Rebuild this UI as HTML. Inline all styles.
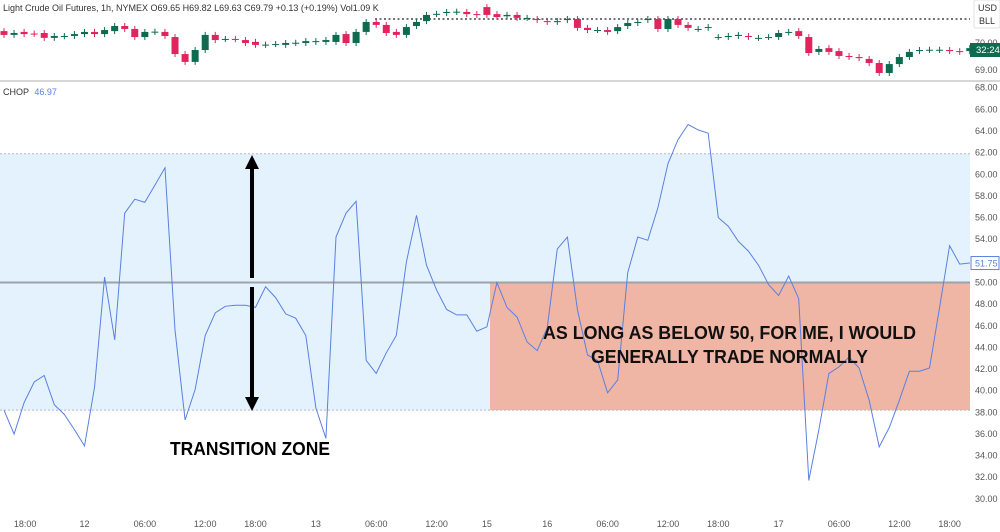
<!DOCTYPE html>
<html><head><meta charset="utf-8">
<style>
html,body{margin:0;padding:0;background:#fff;}
svg{display:block;font-family:"Liberation Sans","DejaVu Sans",sans-serif;}
</style></head>
<body>
<svg id="chart" width="1000" height="532" viewBox="0 0 1000 532" xmlns="http://www.w3.org/2000/svg">
<rect x="0" y="0" width="1000" height="532" fill="#fff"/>
<g id="bands"></g>
<g id="candles"></g>
<g id="chopline"></g>
<g id="axes"></g>
<g id="annot"></g>
</svg>
<script>
const opens=[70.44,70.30,70.41,70.35,70.37,70.19,70.25,70.26,70.33,70.41,70.33,70.44,70.63,70.52,70.22,70.41,70.41,70.22,69.59,69.30,69.74,70.30,70.15,70.15,70.11,70.04,69.93,69.96,69.93,70.00,70.00,70.04,70.04,70.04,70.33,70.00,70.41,70.78,70.67,70.41,70.30,70.63,70.81,71.07,71.11,71.15,71.15,71.07,71.33,71.07,70.99,71.04,70.93,70.89,70.81,70.78,70.85,70.89,70.56,70.48,70.48,70.44,70.63,70.74,70.85,70.89,70.52,70.89,70.67,70.52,70.56,70.22,70.22,70.26,70.26,70.19,70.22,70.22,70.39,70.44,70.22,69.67,69.81,69.70,69.52,69.48,69.41,69.26,68.89,69.22,69.48,69.70,69.74,69.74,69.74,69.70,69.70];
const closes=[70.30,70.37,70.33,70.34,70.19,70.26,70.26,70.33,70.41,70.33,70.48,70.63,70.52,70.22,70.41,70.42,70.26,69.59,69.30,69.74,70.30,70.11,70.15,70.14,70.00,69.93,69.94,69.96,70.00,70.01,70.07,70.07,70.11,70.30,70.00,70.41,70.78,70.67,70.37,70.30,70.59,70.78,71.04,71.08,71.15,71.16,71.07,71.04,71.04,70.96,71.04,70.93,70.93,70.85,70.78,70.81,70.89,70.56,70.48,70.48,70.41,70.59,70.74,70.78,70.89,70.52,70.89,70.67,70.56,70.52,70.59,70.22,70.26,70.30,70.22,70.19,70.22,70.37,70.41,70.26,69.63,69.78,69.67,69.52,69.48,69.44,69.26,68.89,69.22,69.48,69.67,69.74,69.75,69.75,69.70,69.67,69.81];
const chopValues=[38.2,36.0,38.9,40.8,41.4,38.7,37.8,36.4,34.9,40.3,50.5,44.7,56.4,57.7,57.4,59.0,60.6,45.6,37.3,40.1,45.1,47.2,47.8,47.9,47.9,47.7,49.6,48.6,47.1,46.7,45.1,38.4,35.6,54.2,56.4,57.5,42.8,41.6,43.5,45.1,51.9,56.2,51.6,49.3,47.5,47.0,47.0,45.5,45.9,50.0,47.7,46.8,44.5,43.7,45.8,53.1,54.2,47.5,43.3,42.8,39.8,41.0,50.9,54.2,53.9,56.9,61.0,63.2,64.6,64.1,63.8,56.0,55.2,53.8,52.9,51.6,49.8,48.8,50.6,48.5,31.7,36.4,41.6,42.2,43.1,42.1,39.1,34.8,36.6,39.1,41.8,41.8,42.1,47.7,53.4,51.7,51.8];
const chopTicks=[68,66,64,62,60,58,56,54,52,50,48,46,44,42,40,38,36,34,32,30];
const priceTicks=[70,69];
const timeLabels=["18:00","12","06:00","12:00","18:00","13","06:00","12:00","15","16","06:00","12:00","18:00","17","06:00","12:00","18:00"];
const timeIndex=[2.1,8,14,20,25,31,37,43,48,54,60,66,71,77,83,89,94];
const upperBand=61.9, lowerBand=38.2, midLine=50, lastChop=51.75;

const NS="http://www.w3.org/2000/svg";
function el(tag,attrs,parent,text){const e=document.createElementNS(NS,tag);for(const k in attrs)e.setAttribute(k,attrs[k]);if(text!==undefined)e.textContent=text;parent.appendChild(e);return e;}
const xAt=i=>4+i*10.06;
const yChop=v=>131+(64-v)*10.82;
const yPrice=p=>43+(70-p)*27;
const PLOT_R=970;

const bands=document.getElementById('bands');
let r=el('rect',{x:0,y:yChop(upperBand),width:PLOT_R,height:yChop(lowerBand)-yChop(upperBand),fill:'#e4f2fd'},bands);


r=el('rect',{x:490,y:yChop(midLine),width:PLOT_R-490,height:yChop(lowerBand)-yChop(midLine),fill:'#efb5a5'},bands);


[upperBand,lowerBand].forEach(v=>{
  const l=el('line',{x1:0,x2:PLOT_R,y1:yChop(v),y2:yChop(v),stroke:'#b5b5c0','stroke-width':1,'stroke-dasharray':'2,2'},bands);
  
  
});
let ml=el('line',{x1:0,x2:PLOT_R,y1:yChop(midLine),y2:yChop(midLine),stroke:'#9ea3ab','stroke-width':2},bands);



let sep=el('rect',{x:0,y:80,width:1000,height:2,fill:'#d6d6d6'},bands);


let dl=el('line',{x1:375,x2:PLOT_R,y1:19,y2:19,stroke:'#222','stroke-width':1.3,'stroke-dasharray':'2,2.5'},bands);



const cg=document.getElementById('candles');
opens.forEach((o,i)=>{
  const c=closes[i];const up=c>=o;const col=up?'#0e6b4f':'#e0245e';
  const top=yPrice(Math.max(o,c)), bot=yPrice(Math.min(o,c));
  const g=el('g',{},cg);
  
  
  el('line',{x1:xAt(i),x2:xAt(i),y1:top-3,y2:bot+3,stroke:col,'stroke-width':1},g);
  el('rect',{x:xAt(i)-3.5,y:top,width:7,height:Math.max(1,bot-top),fill:col},g);
});

const lg=document.getElementById('chopline');
const pts=chopValues.map((v,i)=>xAt(i).toFixed(1)+','+yChop(v).toFixed(1)).join(' ');
let pl=el('polyline',{points:pts,fill:'none',stroke:'#5a80e0','stroke-width':1},lg);



const ax=document.getElementById('axes');
chopTicks.forEach(v=>{
  const t=el('text',{x:975,y:yChop(v)+3,'font-size':9,fill:'#555'},ax,v.toFixed(2));
  
  
});
priceTicks.forEach(v=>{
  const t=el('text',{x:975,y:yPrice(v)+3,'font-size':9,fill:'#555'},ax,v.toFixed(2));
  
  
});
timeLabels.forEach((s,i)=>{
  const t=el('text',{x:xAt(timeIndex[i]),y:527,'font-size':9,fill:'#555','text-anchor':'middle'},ax,s);
  
  
});
let lb=el('g',{},ax);


el('rect',{x:971,y:yChop(lastChop)-7,width:28,height:13,fill:'#fff',stroke:'#5a80e0','stroke-width':1},lb);
el('text',{x:975,y:yChop(lastChop)+3,'font-size':9,fill:'#5a80e0'},lb,lastChop.toFixed(2));
let pb=el('g',{},ax);


el('rect',{x:970,y:43,width:30,height:14,fill:'#0e6b4f'},pb);
el('text',{x:976,y:53,'font-size':9.5,fill:'#fff'},pb,'32:24');
let ub=el('g',{},ax);


el('rect',{x:974,y:0,width:26,height:28,fill:'#fff',stroke:'#e0e0e0','stroke-width':1,rx:2},ub);
el('text',{x:978,y:11,'font-size':9,fill:'#333'},ub,'USD');
el('text',{x:979,y:24,'font-size':9,fill:'#333'},ub,'BLL');
let hd=el('text',{x:3,y:11,'font-size':9,fill:'#333','xml:space':'preserve'},ax,'Light Crude Oil Futures, 1h, NYMEX  O69.65  H69.82  L69.63  C69.79  +0.13 (+0.19%)  Vol1.09 K');


let ch=el('text',{x:3,y:95,'font-size':9,fill:'#333'},ax);


el('tspan',{},ch,'CHOP ');
el('tspan',{fill:'#5a80e0',dx:3},ch,'46.97');

const an=document.getElementById('annot');
let ar=el('g',{},an);


el('line',{x1:252,x2:252,y1:168,y2:278,stroke:'#000','stroke-width':4},ar);
el('line',{x1:252,x2:252,y1:287,y2:398,stroke:'#000','stroke-width':4},ar);
el('polygon',{points:'245,169 252,155 259,169',fill:'#000'},ar);
el('polygon',{points:'245,397 252,411 259,397',fill:'#000'},ar);
let t1=el('text',{x:170,y:455,'font-size':18,'font-weight':'bold',fill:'#000',textLength:160,lengthAdjust:'spacingAndGlyphs'},an,'TRANSITION ZONE');


let t2=el('text',{x:543,y:339,'font-size':18,'font-weight':'bold',fill:'#111',textLength:373,lengthAdjust:'spacingAndGlyphs'},an,'AS LONG AS BELOW 50, FOR ME, I WOULD');


let t3=el('text',{x:591,y:363,'font-size':18,'font-weight':'bold',fill:'#111',textLength:277,lengthAdjust:'spacingAndGlyphs'},an,'GENERALLY TRADE NORMALLY');


</script>
</body></html>
